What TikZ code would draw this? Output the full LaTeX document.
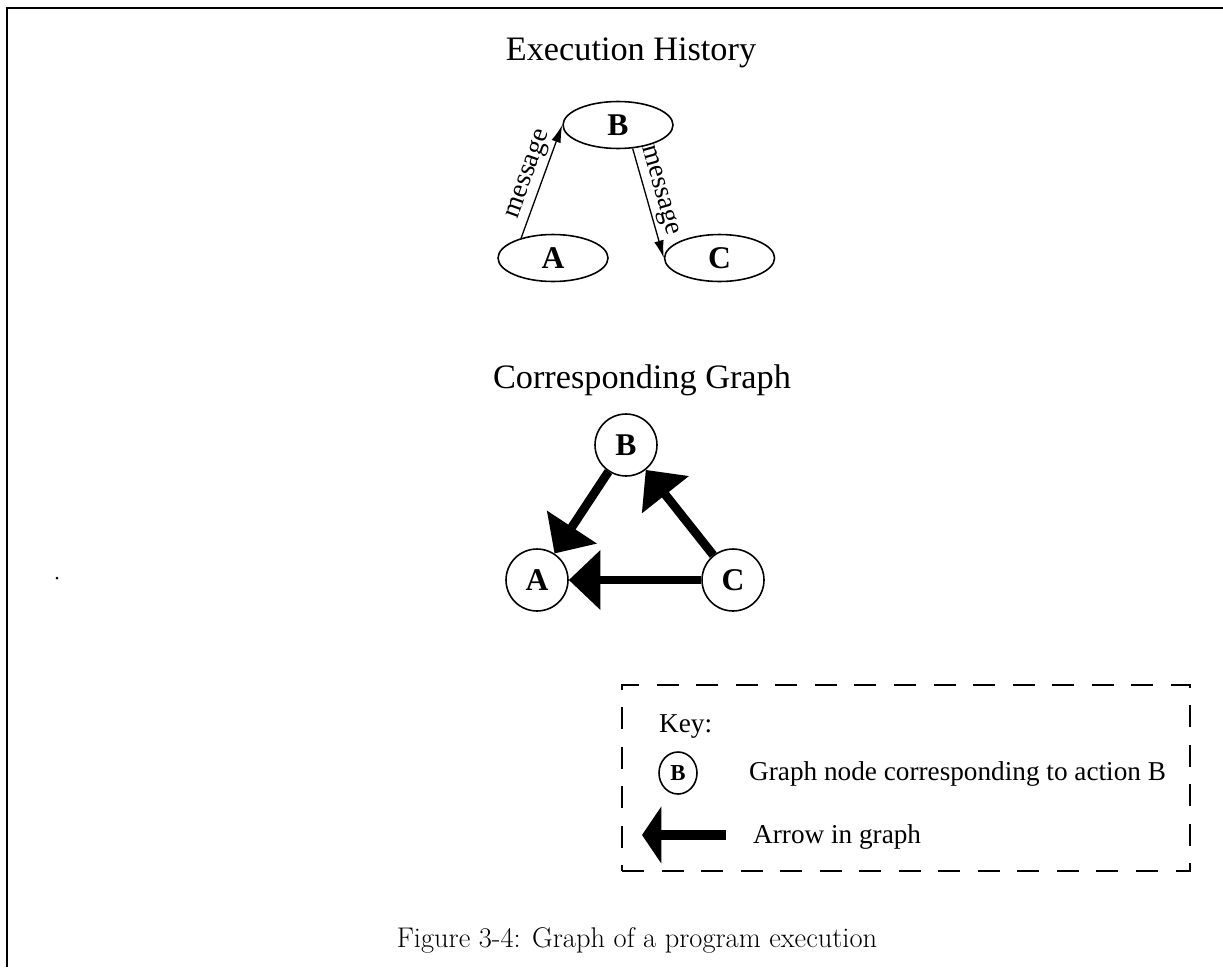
\documentclass[tikz,border=0pt]{standalone}
\usepackage{fontspec}
\newfontfamily\timesfont{Liberation Serif}
\usetikzlibrary{arrows.meta, positioning, shapes.geometric}
\tikzset{
  histnode/.style={ellipse, draw, line width=0.9pt, minimum width=2.2cm,
                   minimum height=0.94cm, inner sep=0pt,
                   font=\timesfont\fontsize{18}{20}\selectfont\bfseries},
  graphnode/.style={circle, draw, line width=0.9pt, minimum size=1.24cm,
                    inner sep=0pt, font=\timesfont\fontsize{18}{20}\selectfont\bfseries},
  keynodestyle/.style={ellipse, draw, line width=0.9pt, minimum width=0.76cm,
                       minimum height=0.84cm, inner sep=0pt,
                       font=\timesfont\fontsize{13}{15}\selectfont\bfseries},
  msgarr/.style={-{Latex[length=10pt, width=5.5pt]}, line width=0.75pt},
  grapharr/.style={-{Triangle[length=18pt, width=33pt]}, line width=5pt},
  headtext/.style={font=\timesfont\fontsize{19.5}{22}\selectfont},
  keytext/.style={font=\timesfont\fontsize{15.5}{18}\selectfont},
  keybox/.style={draw, line width=1.1pt, dash pattern=on 12.5pt off 10pt},
}

\begin{document}
\begin{tikzpicture}[x=0.02cm, y=-0.02cm]
  \useasboundingbox (0,0) rectangle (1223,967);
  \draw[line width=0.8pt] (7,967) -- (7,8) -- (1223,8);
  \fill (57,578) circle (1.5);

  % execution history
  \node[headtext, anchor=base] (exechead) at (631,60) {Execution History};
  \node[histnode] (b) at (618,125) {B};
  \node[histnode] (a) at (553,258) {A};
  \node[histnode, right=1.1cm of a] (c) {C};
  \draw[msgarr] (a.148) -- node[sloped, above, pos=0.52, keytext, inner sep=2pt] {message} (b.west);
  \draw[msgarr] (b.-58) -- node[sloped, above, pos=0.42, keytext, inner sep=2pt] {message} (c.west);

  % corresponding graph
  \node[headtext, anchor=base] (graphhead) at (642,388) {Corresponding Graph};
  \node[graphnode] (gb) at (626,445) {B};
  \node[graphnode] (ga) at (537,580) {A};
  \node[graphnode] (gc) at (733,580) {C};
  \draw[grapharr] (gb) -- (ga);
  \draw[grapharr] (gc) -- (gb);
  \draw[grapharr] (gc) -- (ga);

  % key
  \node[keybox, minimum width=11.36cm, minimum height=3.72cm] (keyframe) at (906,778) {};
  \node[keytext, anchor=base west] (keylabel) at (653,732) {Key:};
  \node[keynodestyle] (keynode) at (678,773) {B};
  \node[keytext, anchor=base west] (keynodetext) at (743,780) {Graph node corresponding to action B};
  \coordinate (keytail) at (726,835);
  \coordinate (keytip) at (642,835);
  \draw[-{Triangle[length=11pt, width=32pt]}, line width=5.5pt] (keytail) -- (keytip);
  \node[keytext, anchor=base west] (keyarrowtext) at (747,843) {Arrow in graph};

  \node[anchor=base, font=\fontsize{16.2}{19}\selectfont] (caption) at (637,947)
       {Figure 3-4: Graph of a program execution};
\end{tikzpicture}
\end{document}
